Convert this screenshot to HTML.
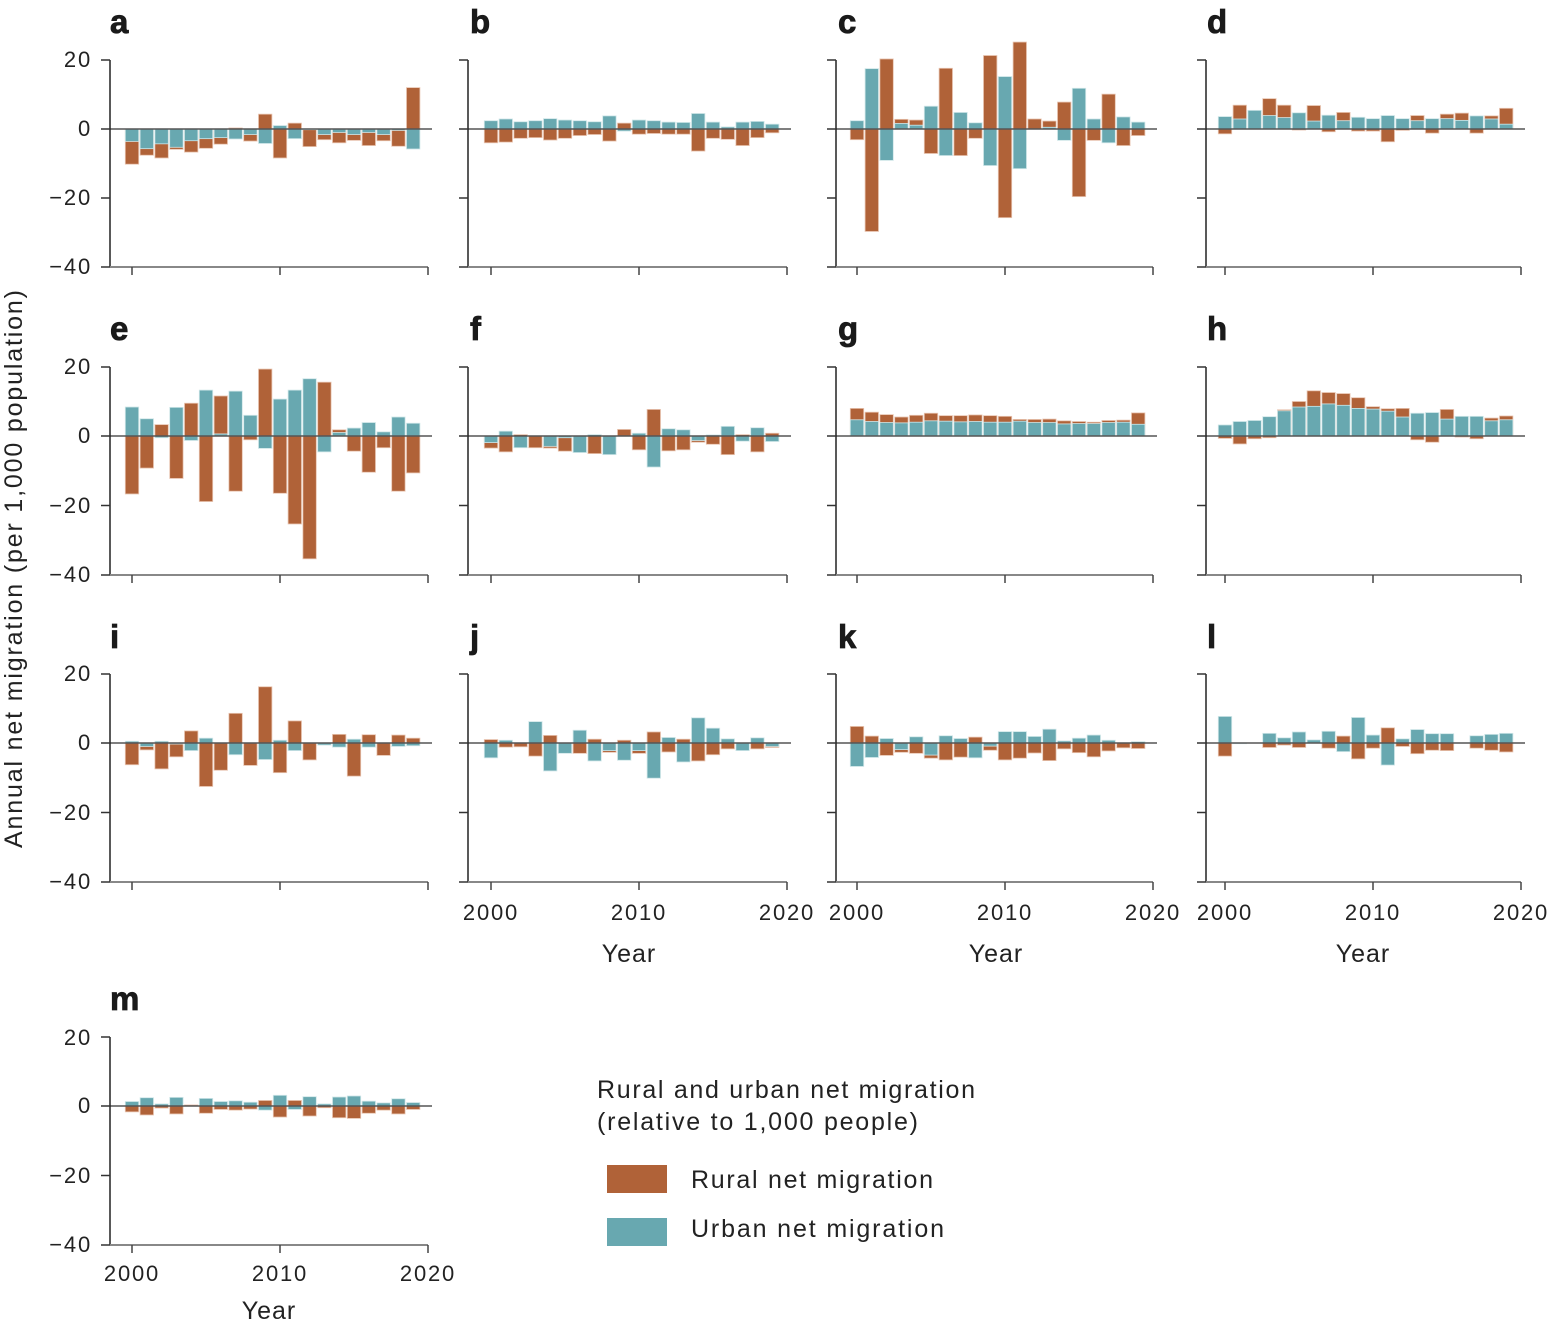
<!DOCTYPE html>
<html><head><meta charset="utf-8"><style>
html,body{margin:0;padding:0;background:#fff;}
svg{display:block;font-family:"Liberation Sans",sans-serif;}
.lt{font-weight:bold;font-size:33px;fill:#1a1a1a;stroke:#1a1a1a;stroke-width:0.8px;}
.tk{font-size:22px;fill:#222;letter-spacing:1.8px;}
.lg{font-size:25px;fill:#222;}
</style></head><body>
<svg id="s" width="1550" height="1327" viewBox="0 0 1550 1327" xmlns="http://www.w3.org/2000/svg">
<g id="bars"></g>
<g id="axes"></g>
<text class="lt" x="110" y="33">a</text>
<text class="lt" x="470" y="33">b</text>
<text class="lt" x="838" y="33">c</text>
<text class="lt" x="1207" y="33">d</text>
<text class="lt" x="110" y="340">e</text>
<text class="lt" x="470" y="340">f</text>
<text class="lt" x="838" y="340">g</text>
<text class="lt" x="1207" y="340">h</text>
<text class="lt" x="110" y="648">i</text>
<text class="lt" x="470" y="648">j</text>
<text class="lt" x="838" y="648">k</text>
<text class="lt" x="1207" y="648">l</text>
<text class="lt" x="110" y="1010">m</text>
<g class="tk" text-anchor="end">
<text x="92" y="67">20</text><text x="92" y="136">0</text><text x="92" y="205">−20</text><text x="92" y="274">−40</text>
<text x="92" y="374">20</text><text x="92" y="443">0</text><text x="92" y="513">−20</text><text x="92" y="582">−40</text>
<text x="92" y="681">20</text><text x="92" y="750">0</text><text x="92" y="820">−20</text><text x="92" y="889">−40</text>
<text x="92" y="1045">20</text><text x="92" y="1113">0</text><text x="92" y="1183">−20</text><text x="92" y="1252">−40</text>
</g>
<g class="tk" text-anchor="middle">
<text x="491" y="920">2000</text><text x="639" y="920">2010</text><text x="787" y="920">2020</text>
<text x="857" y="920">2000</text><text x="1005" y="920">2010</text><text x="1153" y="920">2020</text>
<text x="1225" y="920">2000</text><text x="1373" y="920">2010</text><text x="1521" y="920">2020</text>
<text x="132" y="1281">2000</text><text x="280" y="1281">2010</text><text x="428" y="1281">2020</text>
</g>
<g class="lg" text-anchor="middle" style="letter-spacing:1px">
<text x="629" y="962">Year</text><text x="996" y="962">Year</text><text x="1363" y="962">Year</text><text x="269" y="1319">Year</text>
</g>
<text class="lg" text-anchor="middle" textLength="558" lengthAdjust="spacing" transform="translate(22,569) rotate(-90)">Annual net migration (per 1,000 population)</text>
<text class="lg" x="597" y="1098" textLength="378" lengthAdjust="spacing">Rural and urban net migration</text>
<text class="lg" x="597" y="1130" textLength="321" lengthAdjust="spacing">(relative to 1,000 people)</text>
<rect x="607" y="1165" width="60" height="28" fill="#B06238"/>
<rect x="607" y="1218" width="60" height="28" fill="#68A8B0"/>
<text class="lg" x="691" y="1188" textLength="242" lengthAdjust="spacing">Rural net migration</text>
<text class="lg" x="691" y="1237" textLength="253" lengthAdjust="spacing">Urban net migration</text>
</svg>
<script>
var L=[110,468,836,1206], X0=[132,491,857,1225];
var rows=[[60,129,267],[367,436,575],[674,743,882],[1037,1106,1245]];
var P={
a:[[-10.2,-3.6],[-7.6,-5.7],[-8.4,-4.3],[-5.9,-5.3],[-6.7,-3.4],[-5.6,-2.8],[-4.4,-2.5],[0.3,-2.9],[-3.5,-1.6],[4.3,-4.2],[-8.4,1.0],[1.7,-2.8],[-5.1,-0.2],[-3.1,-1.6],[-4.0,-1.0],[-3.3,-1.6],[-4.8,-1.0],[-3.4,-1.6],[-5.0,-0.4],[12,-5.8]],
b:[[-4,2.4],[-3.8,2.9],[-2.7,2.1],[-2.5,2.4],[-3.2,3.0],[-2.7,2.6],[-1.9,2.4],[-1.6,2.1],[-3.5,3.8],[1.7,-0.6],[-1.5,2.6],[-1.3,2.4],[-1.5,2.0],[-1.5,1.9],[-6.4,4.5],[-2.7,2.0],[-3.0,0.6],[-4.8,2.0],[-2.5,2.2],[-1.1,1.4]],
c:[[-3.1,2.4],[-29.7,17.5],[20.3,-9.1],[2.8,1.6],[2.6,1.1],[-7.1,6.6],[17.6,-7.7],[-7.7,4.8],[-2.7,1.8],[21.3,-10.6],[-25.7,15.2],[25.2,-11.5],[2.9,0],[2.3,0.5],[7.8,-3.3],[-19.6,11.8],[-3.3,2.9],[10.1,-4.0],[-4.8,3.5],[-1.9,2.0]],
d:[[-1.4,3.6],[6.9,2.9],[5.2,5.4],[8.8,3.9],[6.9,3.3],[-0.3,4.7],[6.8,2.3],[-0.8,4.0],[4.8,2.4],[-0.6,3.4],[-0.6,3.0],[-3.7,3.9],[-0.4,3.0],[3.9,2.4],[-1.2,3.0],[4.3,3.0],[4.6,2.5],[-1.2,3.8],[3.8,2.9],[6.0,1.4]],
e:[[-16.8,8.4],[-9.3,5.0],[3.3,-0.5],[-12.3,8.3],[9.5,-1.3],[-19,13.3],[11.6,0.6],[-16,13.0],[-1.1,6.0],[19.4,-3.6],[-16.6,10.7],[-25.5,13.3],[-35.6,16.6],[15.6,-4.6],[1.8,1.0],[-4.4,2.3],[-10.5,3.9],[-3.4,1.2],[-16,5.5],[-10.7,3.7]],
f:[[-3.5,-1.9],[-4.6,1.4],[0.4,-3.4],[-3.4,0],[-3.5,-3.0],[-4.4,-0.5],[0,-4.8],[-5.1,0.4],[0,-5.4],[1.9,0],[-4.0,0.8],[7.7,-9.0],[-4.3,2.1],[-4.0,1.8],[-1.8,-1.3],[-2.4,0.3],[-5.4,2.8],[0.4,-1.5],[-4.6,2.4],[0.8,-1.6]],
g:[[8.0,4.7],[6.9,4.2],[6.2,3.9],[5.5,3.8],[6.0,4.0],[6.6,4.4],[5.9,4.3],[5.9,4.1],[6.1,4.2],[5.9,4.0],[5.7,4.0],[4.8,4.3],[4.8,3.9],[4.9,3.9],[4.4,3.5],[4.2,3.6],[4.0,3.6],[4.5,3.9],[4.6,4.0],[6.7,3.4]],
h:[[-0.7,3.2],[-2.3,4.2],[-0.8,4.5],[-0.5,5.6],[7.6,7.3],[10.0,8.4],[13.1,8.6],[12.6,9.3],[12.3,8.9],[11.1,8.0],[8.5,7.8],[7.9,7.2],[8.0,5.5],[-1.1,6.6],[-1.8,6.8],[7.7,4.9],[-0.3,5.7],[-0.8,5.7],[5.2,4.4],[5.8,4.7]],
i:[[-6.3,0.5],[-2.0,-1.0],[-7.5,0.5],[-4.0,-0.3],[3.5,-2.2],[-12.6,1.4],[-7.9,0],[8.6,-3.4],[-6.5,0],[16.3,-4.8],[-8.6,0.8],[6.4,-2.2],[-4.9,0],[-0.3,-0.6],[2.5,-1.2],[-9.6,1.1],[2.4,-1.2],[-3.6,0],[2.3,-1.0],[1.4,-0.8]],
j:[[1.0,-4.3],[-1.2,0.8],[-1.1,0],[-3.8,6.2],[2.2,-8.1],[0,-3.0],[-3.0,3.7],[1.1,-5.2],[-2.7,-2.2],[0.8,-5.0],[-3.0,-2.2],[3.2,-10.2],[-2.6,1.6],[1.1,-5.5],[-5.2,7.3],[-3.4,4.3],[-1.7,1.2],[0,-2.2],[-1.7,1.5],[-1.3,-1.0]],
k:[[4.8,-6.8],[2.0,-4.2],[-3.6,1.3],[-2.7,-1.9],[-3.0,1.8],[-4.4,-3.5],[-4.9,2.1],[-4.1,1.3],[1.7,-4.3],[-2.1,-0.9],[-4.9,3.3],[-4.4,3.3],[-2.9,1.9],[-5.1,4.0],[-1.7,0.6],[-2.8,1.4],[-4.0,2.3],[-2.3,0.8],[-1.4,0],[-1.6,0.4]],
l:[[-3.8,7.7],[0,-0.2],[0,0],[-1.3,2.8],[-0.6,1.5],[-1.3,3.2],[0,0.9],[-1.5,3.4],[2.0,-2.5],[-4.6,7.4],[-1.5,2.3],[4.4,-6.4],[-1.0,1.2],[-3.1,3.9],[-2.1,2.7],[-2.2,2.7],[0,0],[-1.5,2.1],[-2.1,2.5],[-2.6,2.8]],
m:[[-1.7,1.3],[-2.6,2.4],[-0.6,0.6],[-2.3,2.5],[0.3,0],[-2.1,2.2],[-1.0,1.3],[-1.2,1.5],[-0.9,1.1],[1.6,-1.2],[-3.2,3.1],[1.6,-1.0],[-2.9,2.7],[-0.5,0.6],[-3.4,2.6],[-3.6,2.9],[-2.1,1.4],[-1.2,0.9],[-2.3,2.1],[-1.0,1.0]]
};
var order=[['a',0,0],['b',1,0],['c',2,0],['d',3,0],['e',0,1],['f',1,1],['g',2,1],['h',3,1],['i',0,2],['j',1,2],['k',2,2],['l',3,2],['m',0,3]];
var NS='http://www.w3.org/2000/svg',B=document.getElementById('bars'),A=document.getElementById('axes');
function el(p,t,a){var e=document.createElementNS(NS,t);for(var k in a)e.setAttribute(k,a[k]);p.appendChild(e);return e;}
var sc=3.45,pw=14.8,bw=13.4;
order.forEach(function(o){
 var d=P[o[0]],l=L[o[1]],x0=X0[o[1]],r=rows[o[2]],y0=r[1];
 function bar(v,x,c,s){if(!v)return;var h=Math.abs(v)*sc;el(B,'rect',{x:x-bw/2,y:v>0?y0-h:y0,width:bw,height:h,fill:c,stroke:s,'stroke-width':0.8});}
 d.forEach(function(v,i){var x=x0+i*pw;bar(v[0],x,'#B06238','#e8c4b0');bar(v[1],x,'#68A8B0','#cfe6e8');});
 var x20=x0+20*pw;
 el(A,'line',{x1:l,x2:x20+4,y1:y0,y2:y0,stroke:'#555','stroke-width':1.5});
 el(A,'line',{x1:l,x2:l,y1:r[0],y2:r[2],stroke:'#222','stroke-width':1.5});
 [r[0],y0,(y0+r[2])/2,r[2]].forEach(function(y){el(A,'line',{x1:l-9,x2:l,y1:y,y2:y,stroke:'#333','stroke-width':1.5});});
 el(A,'line',{x1:l,x2:x20,y1:r[2],y2:r[2],stroke:'#888','stroke-width':2});
 [0,10,20].forEach(function(k){var x=x0+k*pw;el(A,'line',{x1:x,x2:x,y1:r[2],y2:r[2]+8,stroke:'#444','stroke-width':1.5});});
});
</script>
</body></html>
